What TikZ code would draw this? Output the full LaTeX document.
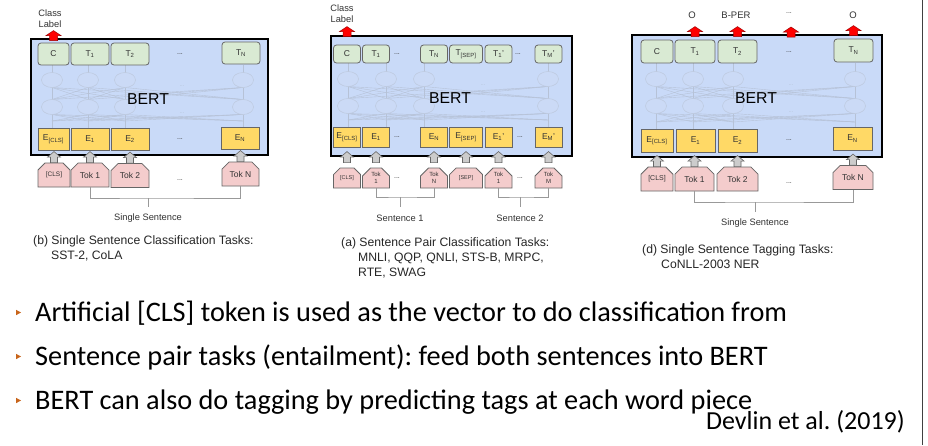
\documentclass[tikz,border=0pt]{standalone}
\usepackage{fontspec}
\setmainfont{Liberation Sans}
\newfontfamily\bodyfont{Carlito}
\usetikzlibrary{shapes.misc}
\frenchspacing

\definecolor{bertblue}{HTML}{C9DAF8}
\definecolor{tgreen}{HTML}{D9EAD3}
\definecolor{eyellow}{HTML}{FFD966}
\definecolor{tokpink}{HTML}{F4CCCC}
\definecolor{edgegray}{HTML}{666666}
\definecolor{labeltext}{HTML}{333333}
\definecolor{netgray}{HTML}{B6C2D7}
\definecolor{ellfill}{HTML}{CBDAF6}
\definecolor{ellline}{HTML}{BDC9DE}
\definecolor{redarrow}{HTML}{FF0000}
\definecolor{rededge}{HTML}{A00000}
\definecolor{grayarrow}{HTML}{CCCCCC}
\definecolor{brkgray}{HTML}{999999}
\definecolor{bulletc}{HTML}{C8651B}

\tikzset{
  bertbox/.style={draw=black, line width=1.4pt, fill=bertblue, inner sep=0pt},
  bertlabel/.style={font=\fontsize{15.8}{18}\selectfont, text=black, inner sep=0pt},
  boxfont/.style={font=\fontsize{8.5}{10}\selectfont, text=labeltext},
  tbox/.style={boxfont, draw=edgegray, fill=tgreen, rounded corners=3pt, line width=0.8pt, inner sep=0pt},
  ebox/.style={boxfont, draw=edgegray, fill=eyellow, line width=0.8pt, inner sep=0pt},
  tokbox/.style={boxfont, chamfered rectangle, chamfered rectangle corners={north west,north east},
    chamfered rectangle xsep=4pt, chamfered rectangle ysep=4pt,
    draw=edgegray, fill=tokpink, line width=0.8pt, inner sep=0pt},
  smalltok/.style={font=\fontsize{6}{7}\selectfont, align=center},
  cdots/.style={font=\fontsize{7}{8}\selectfont, text=labeltext, inner sep=0pt},
  netline/.style={draw=netgray, line width=0.4pt},
  netell/.style={draw=ellline, fill=ellfill, line width=0.5pt},
  netdots/.style={font=\fontsize{6}{7}\selectfont, text=netgray, inner sep=0pt},
  brk/.style={draw=brkgray, line width=0.9pt},
  plainlabel/.style={font=\fontsize{9.3}{11}\selectfont, text=labeltext, inner sep=0pt, align=center},
  caption/.style={font=\fontsize{12.2}{15}\selectfont, text=black!85, inner sep=0pt, align=left, anchor=north west},
  bullettext/.style={font=\bodyfont\fontsize{28.3}{34}\selectfont, text=black, inner sep=0pt, anchor=base west},
  redup/.pic={\draw[fill=redarrow, draw=rededge, line width=0.5pt, line join=miter]
      (-4,0) -- (-4,-5) -- (-7.5,-5) -- (0,-10) -- (7.5,-5) -- (4,-5) -- (4,0) -- cycle;},
  grayup/.pic={\draw[fill=grayarrow, draw=edgegray, line width=0.6pt, line join=miter]
      (-3.5,0) -- (-3.5,-5.5) -- (-6.5,-5.5) -- (0,-11) -- (6.5,-5.5) -- (3.5,-5.5) -- (3.5,0) -- cycle;},
}

% Faint transformer network inside a BERT block:
% #1 column x list, #2 x of the dots, #3 upper ellipse y, #4 lower ellipse y,
% #5 bottom of the output row, #6 top of the embedding row
\newcommand\bertnet[6]{%
  \foreach \a in {#1}{%
    \foreach \b in {#1}{%
      \draw[netline] (\a,#6-7) -- (\b,#4+7.5);
      \draw[netline] (\a,#4-7.5) -- (\b,#3+7.5);
    }
    \draw[netline] (\a,#6) -- (\a,#6-7);
    \draw[netline] (\a,#3-7.5) -- (\a,#5);
  }
  \foreach \a in {#1}{%
    \draw[netell] (\a,#3) ellipse (10.5pt and 7.5pt);
    \draw[netell] (\a,#4) ellipse (10.5pt and 7.5pt);
  }
  \node[netdots] at (#2,#3+6) {...};
  \node[netdots] at (#2,#4+6) {...};
}

\begin{document}
\begin{tikzpicture}[x=1pt,y=-1pt]
\fill[white] (0,0) rectangle (928,445);
\useasboundingbox (0,0) rectangle (928,445);

%% ---------------- (b) single sentence classification ----------------
\node[bertbox, minimum width=237pt, minimum height=116pt] (p1bert) at (149.5,97) {};
\bertnet{52,88,125,243}{182}{80}{107}{65}{128}
\node[bertlabel] (p1lab) at (148,99) {BERT};

\node[tbox, minimum width=31pt, minimum height=22pt] (p1T0) at (53.5,54) {C};
\node[tbox, minimum width=38pt, minimum height=22pt] (p1T1) at (90,54) {T\textsubscript{1}};
\node[tbox, minimum width=38pt, minimum height=22pt] (p1T2) at (130,54) {T\textsubscript{2}};
\node[cdots] (p1Td) at (180,54) {...};
\node[tbox, minimum width=38pt, minimum height=22pt] (p1TN) at (241,53) {T\textsubscript{N}};

\node[ebox, minimum width=31pt, minimum height=22pt] (p1E0) at (53.5,139) {E\textsubscript{[CLS]}};
\node[ebox, minimum width=38pt, minimum height=22pt] (p1E1) at (90,139) {E\textsubscript{1}};
\node[ebox, minimum width=38pt, minimum height=22pt] (p1E2) at (130,139) {E\textsubscript{2}};
\node[cdots] (p1Ed) at (180,139) {...};
\node[ebox, minimum width=38pt, minimum height=22pt] (p1EN) at (240,138) {E\textsubscript{N}};

\node[tokbox, minimum width=32pt, minimum height=24pt] (p1k0) at (54,175) {\fontsize{6.5}{8}\selectfont [CLS]};
\node[tokbox, minimum width=38pt, minimum height=24pt] (p1k1) at (90,175) {Tok 1};
\node[tokbox, minimum width=38pt, minimum height=24pt] (p1k2) at (130,175.5) {Tok 2};
\node[cdots] (p1kd) at (180,180) {...};
\node[tokbox, minimum width=37pt, minimum height=24pt] (p1kN) at (240.5,174) {Tok N};

\foreach \n in {p1k0,p1k1,p1k2,p1kN} \pic at (\n.north) {grayup};
\pic at ([yshift=2pt]p1T0.north) {redup};

\coordinate (p1bar) at (148,198);
\coordinate (p1stem) at (148,207);
\draw[brk] (p1k1.south) |- (p1bar) -| (p1kN.south);
\draw[brk] (p1bar) -- (p1stem);
\node[plainlabel] (p1ss) at (148,218) {Single Sentence};
\node[plainlabel] (p1cl) at (50,18.5) {Class\\Label};
\node[caption] (p1cap) at (33,235.5) {(b) Single Sentence Classification Tasks:\\\hspace*{18pt}SST-2, CoLA};

%% ---------------- (a) sentence pair classification ----------------
\node[bertbox, minimum width=241pt, minimum height=120pt] (p2bert) at (451.5,96) {};
\bertnet{348,386,424,548}{483}{79}{106}{63}{127}
\node[bertlabel] (p2lab) at (450,98) {BERT};

\node[tbox, minimum width=27pt, minimum height=18pt] (p2T0) at (347,54) {C};
\node[tbox, minimum width=27pt, minimum height=18pt] (p2T1) at (376,54) {T\textsubscript{1}};
\node[cdots] (p2Td1) at (397,54) {...};
\node[tbox, minimum width=27pt, minimum height=18pt] (p2TN) at (434,54) {T\textsubscript{N}};
\node[tbox, minimum width=33pt, minimum height=18pt] (p2TS) at (466,54) {T\textsubscript{[SEP]}};
\node[tbox, minimum width=27pt, minimum height=18pt] (p2T1b) at (498.5,54) {T\textsubscript{1}'};
\node[cdots] (p2Td2) at (518,54) {...};
\node[tbox, minimum width=27pt, minimum height=18pt] (p2TM) at (548.5,54) {T\textsubscript{M}'};

\node[ebox, minimum width=27pt, minimum height=20pt] (p2E0) at (347,137) {E\textsubscript{[CLS]}};
\node[ebox, minimum width=27pt, minimum height=20pt] (p2E1) at (376,137) {E\textsubscript{1}};
\node[cdots] (p2Ed1) at (397,137) {...};
\node[ebox, minimum width=27pt, minimum height=20pt] (p2EN) at (434,137) {E\textsubscript{N}};
\node[ebox, minimum width=33pt, minimum height=20pt] (p2ES) at (466,137) {E\textsubscript{[SEP]}};
\node[ebox, minimum width=27pt, minimum height=20pt] (p2E1b) at (498.5,137) {E\textsubscript{1}'};
\node[cdots] (p2Ed2) at (520,137) {...};
\node[ebox, minimum width=27pt, minimum height=20pt] (p2EM) at (548.5,137) {E\textsubscript{M}'};

\node[tokbox, minimum width=27pt, minimum height=20pt] (p2k0) at (347,178) {\fontsize{5.5}{7}\selectfont [CLS]};
\node[tokbox, minimum width=27pt, minimum height=20pt, smalltok] (p2k1) at (376,178) {Tok\\1};
\node[cdots] (p2kd1) at (397,178) {...};
\node[tokbox, minimum width=27pt, minimum height=20pt, smalltok] (p2kN) at (434,178) {Tok\\N};
\node[tokbox, minimum width=33pt, minimum height=20pt] (p2kS) at (466,178) {\fontsize{5.5}{7}\selectfont [SEP]};
\node[tokbox, minimum width=27pt, minimum height=20pt, smalltok] (p2k1b) at (498.5,178) {Tok\\1};
\node[cdots] (p2kd2) at (520,178) {...};
\node[tokbox, minimum width=27pt, minimum height=20pt, smalltok] (p2kM) at (548.5,178) {Tok\\M};

\foreach \n in {p2k0,p2k1,p2kN,p2kS,p2k1b,p2kM} \pic at ([yshift=5pt]\n.north) {grayup};
\pic at ([yshift=8pt]p2T0.north) {redup};

\coordinate (p2bar1) at (400,197);
\coordinate (p2stem1) at (400,207);
\coordinate (p2bar2) at (520,197);
\coordinate (p2stem2) at (520,207);
\draw[brk] (p2k1.south) |- (p2bar1) -| (p2kN.south);
\draw[brk] (p2bar1) -- (p2stem1);
\draw[brk] (p2k1b.south) |- (p2bar2) -| (p2kM.south);
\draw[brk] (p2bar2) -- (p2stem2);
\node[plainlabel] (p2s1) at (400,218) {Sentence 1};
\node[plainlabel] (p2s2) at (520,218) {Sentence 2};
\node[plainlabel] (p2cl) at (342,13.5) {Class\\Label};
\node[caption] (p2cap) at (341,237.5) {(a) Sentence Pair Classification Tasks:\\\hspace*{17pt}MNLI, QQP, QNLI, STS-B, MRPC,\\\hspace*{17pt}RTE, SWAG};

%% ---------------- (d) single sentence tagging ----------------
\node[bertbox, minimum width=250pt, minimum height=122pt] (p3bert) at (757,96) {};
\bertnet{656,693,733,855}{791}{79}{106}{63}{129}
\node[bertlabel] (p3lab) at (756,98) {BERT};

\node[tbox, minimum width=32pt, minimum height=23pt] (p3T0) at (657,51.5) {C};
\node[tbox, minimum width=40pt, minimum height=23pt] (p3T1) at (695,51.5) {T\textsubscript{1}};
\node[tbox, minimum width=39pt, minimum height=23pt] (p3T2) at (737.5,51.5) {T\textsubscript{2}};
\node[cdots] (p3Td) at (789,52) {...};
\node[tbox, minimum width=39pt, minimum height=23pt] (p3TN) at (853.5,50.5) {T\textsubscript{N}};

\node[ebox, minimum width=32pt, minimum height=23pt] (p3E0) at (657,140.5) {E\textsubscript{[CLS]}};
\node[ebox, minimum width=39pt, minimum height=23pt] (p3E1) at (695.5,140.5) {E\textsubscript{1}};
\node[ebox, minimum width=39pt, minimum height=23pt] (p3E2) at (737.5,140.5) {E\textsubscript{2}};
\node[cdots] (p3Ed) at (789,140) {...};
\node[ebox, minimum width=39pt, minimum height=23pt] (p3EN) at (852.5,138.5) {E\textsubscript{N}};

\node[tokbox, minimum width=32pt, minimum height=24pt] (p3k0) at (657,179) {\fontsize{7}{8}\selectfont [CLS]};
\node[tokbox, minimum width=39pt, minimum height=24pt] (p3k1) at (694.5,179) {Tok 1};
\node[tokbox, minimum width=41pt, minimum height=24pt] (p3k2) at (737.5,179) {Tok 2};
\node[cdots] (p3kd) at (789,183) {...};
\node[tokbox, minimum width=40pt, minimum height=24pt] (p3kN) at (853,177.5) {Tok N};

\foreach \n in {p3k0,p3k1,p3k2,p3kN} \pic at (\n.north) {grayup};

\coordinate (p3dotarrow) at (791,37);
\pic at ([yshift=3pt]p3T1.north) {redup};
\pic at ([yshift=3pt]p3T2.north) {redup};
\pic at (p3dotarrow) {redup};
\pic at ([yshift=3pt]p3TN.north) {redup};
\node[plainlabel, font=\fontsize{9.5}{11}\selectfont] (p3o1) at (692,15) {O};
\node[plainlabel, font=\fontsize{9.5}{11}\selectfont] (p3bp) at (736,15) {B-PER};
\node[cdots] (p3od) at (789,13) {...};
\node[plainlabel, font=\fontsize{9.5}{11}\selectfont] (p3o2) at (853,15) {O};

\coordinate (p3bar) at (755,202);
\coordinate (p3stem) at (755,212);
\draw[brk] (p3k1.south) |- (p3bar) -| (p3kN.south);
\draw[brk] (p3bar) -- (p3stem);
\node[plainlabel] (p3ss) at (755,223) {Single Sentence};
\node[caption] (p3cap) at (642,244.5) {(d) Single Sentence Tagging Tasks:\\\hspace*{19pt}CoNLL-2003 NER};

%% ---------------- bullet points ----------------
\foreach \yy in {312.5,356.5,400.5}
  \fill[bulletc] (16,\yy-2.7) -- (21,\yy) -- (16,\yy+2.7) -- cycle;
\node[bullettext] (b1) at (35,321) {Artificial [CLS] token is used as the vector to do classification from};
\node[bullettext] (b2) at (35,365) {Sentence pair tasks (entailment): feed both sentences into BERT};
\node[bullettext] (b3) at (35,409) {BERT can also do tagging by predicting tags at each word piece};
\node[bullettext, font=\bodyfont\fontsize{26}{30}\selectfont, anchor=base east] (cite) at (905,429) {Devlin et al. (2019)};

\draw[line width=1pt, draw=black!75] (922,0) -- (922,445);
\end{tikzpicture}
\end{document}
